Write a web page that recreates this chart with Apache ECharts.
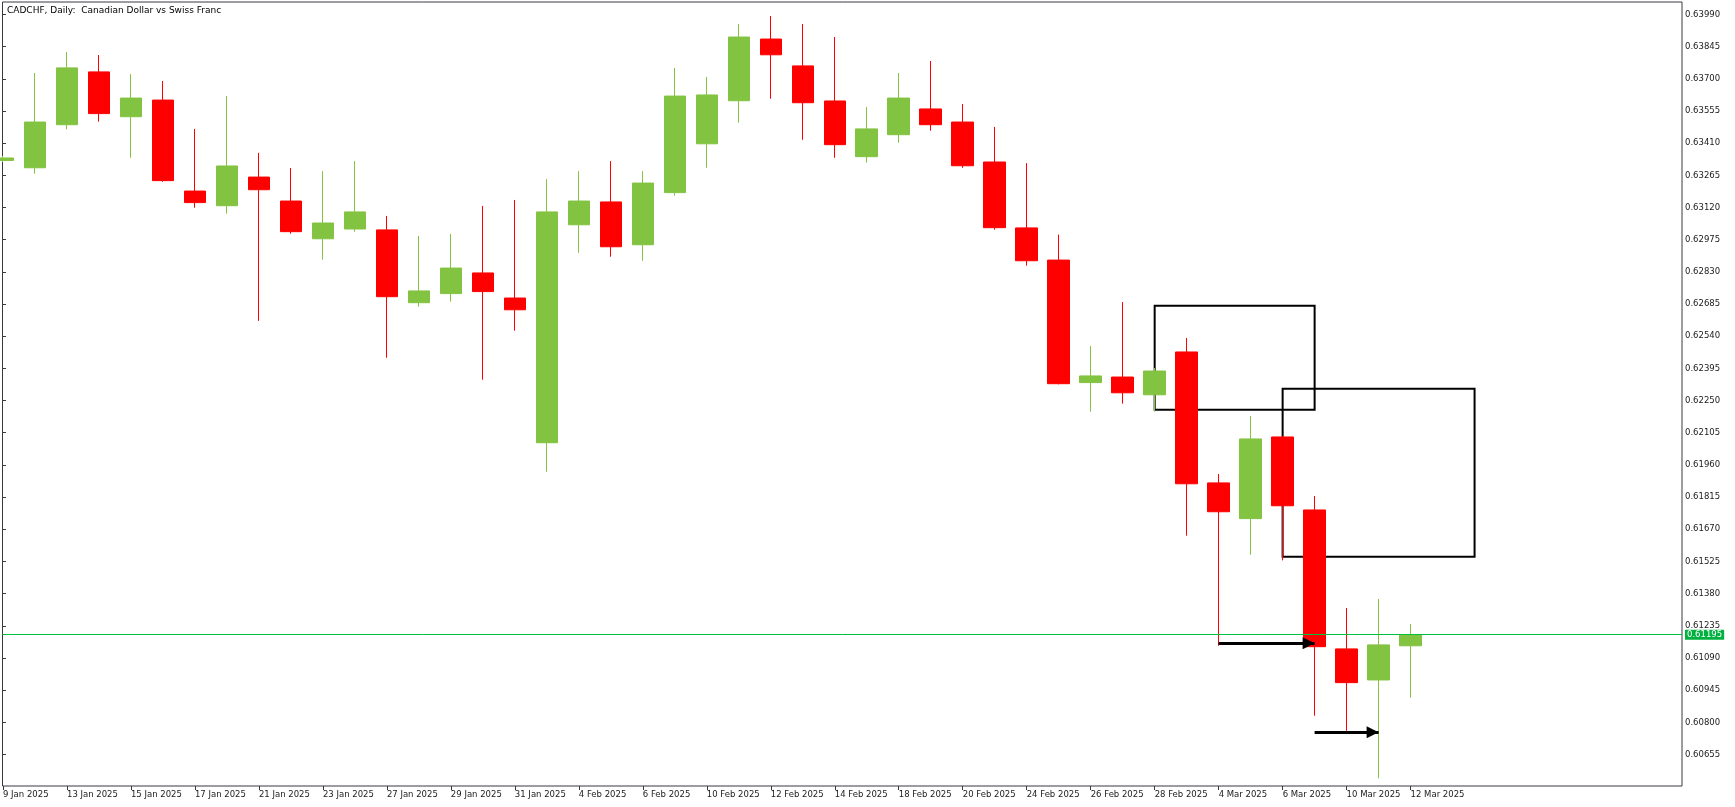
<!DOCTYPE html>
<html>
<head>
<meta charset="utf-8">
<script src="https://cdn.jsdelivr.net/npm/echarts@6/dist/echarts.min.js"></script>
<style>
html,body{margin:0;padding:0;background:#fff;}
#chart{width:1735px;height:807px;}
</style>
</head>
<body>
<div id="chart"></div>
<script>
// ---- data ----
var dates = ['9 Jan 2025','10 Jan 2025','13 Jan 2025','14 Jan 2025','15 Jan 2025','16 Jan 2025','17 Jan 2025',
  '20 Jan 2025','21 Jan 2025','22 Jan 2025','23 Jan 2025','24 Jan 2025','27 Jan 2025','28 Jan 2025','29 Jan 2025',
  '30 Jan 2025','31 Jan 2025','3 Feb 2025','4 Feb 2025','5 Feb 2025','6 Feb 2025','7 Feb 2025','10 Feb 2025',
  '11 Feb 2025','12 Feb 2025','13 Feb 2025','14 Feb 2025','17 Feb 2025','18 Feb 2025','19 Feb 2025','20 Feb 2025',
  '21 Feb 2025','24 Feb 2025','25 Feb 2025','26 Feb 2025','27 Feb 2025','28 Feb 2025','3 Mar 2025','4 Mar 2025',
  '5 Mar 2025','6 Mar 2025','7 Mar 2025','10 Mar 2025','11 Mar 2025','12 Mar 2025'];
var opens  = [0.63332,0.63299,0.63493,0.63731,0.63529,0.63604,0.63194,0.63128,0.63257,0.63149,0.62979,0.63023,
  0.63019,0.62691,0.62732,0.62825,0.62712,0.62060,0.63042,0.63145,0.62952,0.63187,0.63407,0.63601,0.63879,0.63758,
  0.63600,0.63349,0.63448,0.63564,0.63505,0.63325,0.63028,0.62883,0.62331,0.62356,0.62276,0.62469,0.61879,0.61718,
  0.62086,0.61757,0.61131,0.60991,0.61145];
var closes = [0.63343,0.63505,0.63749,0.63543,0.63613,0.63241,0.63142,0.63307,0.63200,0.63011,0.63050,0.63100,
  0.62718,0.62744,0.62847,0.62741,0.62659,0.63100,0.63149,0.62943,0.63230,0.63622,0.63627,0.63888,0.63808,0.63592,
  0.63403,0.63474,0.63613,0.63493,0.63308,0.63029,0.62880,0.62326,0.62361,0.62285,0.62383,0.61875,0.61749,0.62077,
  0.61776,0.61141,0.60979,0.61149,0.61195];
var lows   = [0.63325,0.63272,0.63472,0.63507,0.63344,0.63236,0.63119,0.63092,0.62609,0.63002,0.62885,0.63011,
  0.62443,0.62673,0.62696,0.62344,0.62565,0.61929,0.62916,0.62898,0.62880,0.63173,0.63299,0.63502,0.63610,0.63425,
  0.63344,0.63322,0.63412,0.63466,0.63299,0.63020,0.62858,0.62323,0.62200,0.62236,0.62200,0.61641,0.61145,0.61555,
  0.61530,0.60830,0.60762,0.60548,0.60911];
var highs  = [0.63352,0.63726,0.63821,0.63807,0.63721,0.63690,0.63474,0.63622,0.63366,0.63298,0.63284,0.63329,
  0.63082,0.62992,0.63001,0.63127,0.63154,0.63248,0.63284,0.63329,0.63284,0.63749,0.63708,0.63947,0.63983,0.63947,
  0.63888,0.63573,0.63726,0.63780,0.63586,0.63483,0.63320,0.62998,0.62496,0.62694,0.62397,0.62532,0.61919,0.62180,
  0.62090,0.61820,0.61315,0.61356,0.61243];
var yTickLabels = ['0.60655','0.60800','0.60945','0.61090','0.61235','0.61380','0.61525','0.61670','0.61815',
  '0.61960','0.62105','0.62250','0.62395','0.62540','0.62685','0.62830','0.62975','0.63120','0.63265','0.63410',
  '0.63555','0.63700','0.63845','0.63990'];
var xLabelIdx = [0,2,4,6,8,10,12,14,16,18,20,22,24,26,28,30,32,34,36,38,40,42,44];
var currentPrice = 0.61195;
// annotation boxes: [startIndex, topPrice, endIndex, bottomPrice]
var boxes = [[36, 0.62677, 41, 0.62209], [40, 0.62303, 46, 0.61546]];
// arrows: [fromIndex, toIndex, price]
var arrows = [[38, 41, 0.61156], [41, 43, 0.60755]];
var titleText = 'CADCHF, Daily:  Canadian Dollar vs Swiss Franc';

// ---- chart ----
var FONT = 'DejaVu Sans';
var chart = echarts.init(document.getElementById('chart'), null, {renderer: 'canvas'});
var candleData = dates.map(function (d, i) { return [i, opens[i], closes[i], lows[i], highs[i]]; });

var option = {
  animation: false,
  backgroundColor: '#ffffff',
  title: {
    text: titleText, left: 7, top: 6, padding: 0,
    textStyle: {fontFamily: FONT, fontSize: 9, fontWeight: 'normal', color: '#000'}
  },
  grid: {left: 2, top: 2, right: 53, bottom: 21, show: true, borderColor: '#363b40', borderWidth: 1, backgroundColor: 'transparent'},
  xAxis: {
    type: 'value', min: -0.0156, max: 52.484,
    axisLine: {show: false},
    splitLine: {show: false},
    axisTick: {show: true, length: 4, customValues: xLabelIdx, lineStyle: {color: '#363b40'}},
    axisLabel: {
      customValues: xLabelIdx, margin: 4, align: 'left',
      fontFamily: FONT, fontSize: 8.5, color: '#1a1a1a',
      formatter: function (v) { return dates[Math.round(v)] || ''; }
    }
  },
  yAxis: {
    type: 'value', position: 'right', min: 0.605132, max: 0.640459,
    axisLine: {show: false},
    splitLine: {show: false},
    axisTick: {show: true, length: 3, customValues: yTickLabels.map(Number), lineStyle: {color: '#363b40'}},
    axisLabel: {
      customValues: yTickLabels.map(Number), margin: 3,
      fontFamily: FONT, fontSize: 8.5, color: '#1a1a1a',
      formatter: function (v) { return v.toFixed(5); }
    }
  },
  series: [
    {
      type: 'line', data: [], silent: true, z: 1,
      markLine: {
        silent: true, symbol: 'none', animation: false, precision: 5,
        lineStyle: {color: '#00c040', type: 'solid', width: 1},
        label: {
          position: 'end', distance: 3, formatter: currentPrice.toFixed(5),
          backgroundColor: '#00b140', color: '#ffffff', fontFamily: FONT, fontSize: 8.5, padding: [1, 2, 0, 2]
        },
        data: [{yAxis: currentPrice}]
      }
    },
    {
      type: 'candlestick',
      data: candleData,
      encode: {x: 0, y: [1, 2, 3, 4]},
      barWidth: 22,
      clip: true,
      z: 2,
      itemStyle: {color: '#82c341', color0: '#ff0000', borderColor: '#82c341', borderColor0: '#ff0000', borderWidth: 1}
    },
    {
      type: 'line', data: [], silent: true, z: 3,
      markArea: {
        silent: true,
        itemStyle: {color: 'rgba(0,0,0,0)', borderColor: '#000', borderWidth: 2},
        data: boxes.map(function (b) { return [{coord: [b[0], b[1]]}, {coord: [b[2], b[3]]}]; })
      },
      markLine: {
        silent: true, animation: false, precision: 5,
        symbol: ['none', 'triangle'], symbolSize: 12,
        lineStyle: {color: '#000', type: 'solid', width: 3},
        label: {show: false},
        data: arrows.map(function (a) {
          return [{coord: [a[0], a[2]], symbol: 'none'}, {coord: [a[1], a[2]], symbol: 'triangle', symbolSize: 12, symbolOffset: [0, 6]}];
        })
      }
    }
  ]
};
chart.setOption(option);
</script>
</body>
</html>
